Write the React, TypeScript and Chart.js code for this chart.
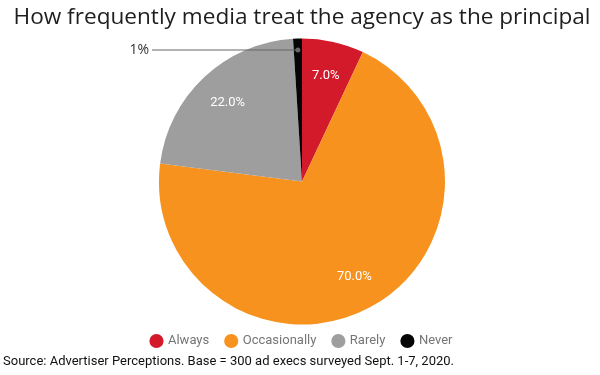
import React, { useEffect, useRef } from "react";
import { Chart, registerables } from "chart.js";

Chart.register(...registerables);

const categories = ["Always", "Occasionally", "Rarely", "Never"];
const values = [7, 70, 22, 1];
const sliceLabels = ["7.0%", "70.0%", "22.0%", "1%"];
const colors = ["#d31a2b", "#f7921e", "#9e9e9e", "#050505"];
const titleText = "How frequently media treat the agency as the principal";
const sourceText = "Source: Advertiser Perceptions. Base = 300 ad execs surveyed Sept. 1-7, 2020.";

const labelPlugin = {
  id: "sliceLabels",
  afterDatasetsDraw(chart: any) {
    const ctx = chart.ctx;
    const meta = chart.getDatasetMeta(0);
    ctx.save();
    meta.data.forEach((arc: any, i: number) => {
      const { x, y, startAngle, endAngle, outerRadius } = arc.getProps(
        ["x", "y", "startAngle", "endAngle", "outerRadius"],
        true
      );
      const mid = (startAngle + endAngle) / 2;
      if (values[i] >= 5) {
        const d = outerRadius * 0.76;
        ctx.fillStyle = "#ffffff";
        ctx.font = "13px Roboto";
        ctx.textAlign = "center";
        ctx.textBaseline = "middle";
        ctx.fillText(sliceLabels[i], x + Math.cos(mid) * d, y + Math.sin(mid) * d);
      } else {
        const d = outerRadius * 0.92;
        const px = x + Math.cos(mid) * d;
        const py = y + Math.sin(mid) * d;
        ctx.fillStyle = "#666666";
        ctx.beginPath();
        ctx.arc(px, py, 2.5, 0, Math.PI * 2);
        ctx.fill();
        ctx.strokeStyle = "#666666";
        ctx.lineWidth = 1;
        ctx.beginPath();
        ctx.moveTo(px, py);
        ctx.lineTo(152, py);
        ctx.stroke();
        ctx.fillStyle = "#333333";
        ctx.font = "14px 'Open Sans'";
        ctx.textAlign = "right";
        ctx.textBaseline = "middle";
        ctx.fillText(sliceLabels[i], 149, py);
      }
    });
    ctx.restore();
  },
  afterDraw(chart: any) {
    const ctx = chart.ctx;
    ctx.save();
    ctx.fillStyle = "#111111";
    ctx.font = "13px Roboto";
    ctx.textAlign = "left";
    ctx.textBaseline = "middle";
    ctx.fillText(sourceText, 3, 362);
    ctx.restore();
  },
};

export default function App() {
  const ref = useRef<HTMLCanvasElement | null>(null);
  useEffect(() => {
    document.body.style.margin = "0";
    if (!ref.current) return;
    const chart = new Chart(ref.current, {
      type: "pie",
      data: {
        labels: categories,
        datasets: [
          {
            data: values,
            backgroundColor: colors,
            borderWidth: 0,
            radius: 143,
            clip: false,
          } as any,
        ],
      },
      options: {
        animation: false,
        responsive: false,
        layout: { padding: { left: 4, right: 0, top: 0, bottom: 17.5 } },
        plugins: {
          title: {
            display: true,
            text: titleText,
            color: "#1e1e1e",
            font: { family: "Open Sans", size: 22.6, weight: "normal" },
            padding: { top: 4.4, bottom: 14 },
          },
          legend: {
            position: "bottom",
            labels: {
              usePointStyle: true,
              pointStyle: "circle",
              boxWidth: 10,
              boxHeight: 10,
              padding: 17,
              color: "#757575",
              font: { family: "Roboto", size: 13 },
            },
          },
          tooltip: { enabled: false },
        },
      },
      plugins: [labelPlugin],
    });
    return () => chart.destroy();
  }, []);
  return <canvas ref={ref} width={600} height={375} style={{ display: "block" }} />;
}
